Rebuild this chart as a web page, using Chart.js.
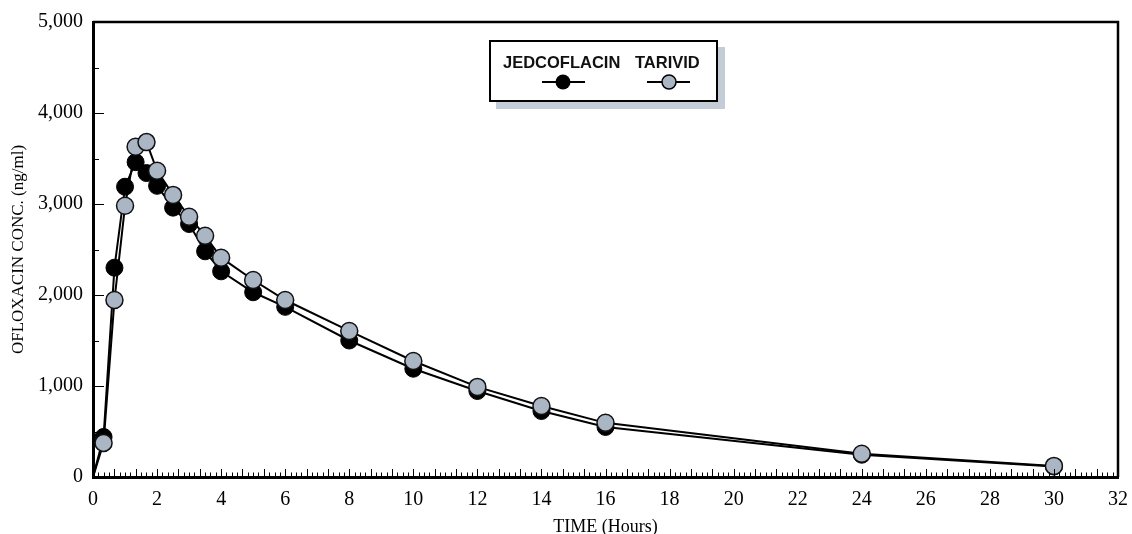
<!DOCTYPE html>
<html>
<head>
<meta charset="utf-8">
<script src="https://cdn.jsdelivr.net/npm/chart.js@4"></script>
<style>
  body { margin: 0; background: #fff; }
  #wrap { position: relative; width: 1132px; height: 534px; }
  #legendBox {
    position: absolute; left: 489px; top: 40px; width: 229px; height: 62px;
    box-sizing: border-box; border: 2px solid #000; background: #fff;
    box-shadow: 7px 7px 0 #c4ccd8;
    font-family: "Liberation Sans", Arial, sans-serif; font-weight: bold; font-size: 16.5px;
  }
  #legendBox span { position: absolute; top: 10px; line-height: 20px; color: #111; }
  #legendBox svg { position: absolute; left: 0; top: 0; }
</style>
</head>
<body>
<div id="wrap">
  <canvas id="pkChart" width="1132" height="534"></canvas>
  <div id="legendBox">
    <span style="left:12px">JEDCOFLACIN</span>
    <span style="left:144px">TARIVID</span>
    <svg width="225" height="58">
      <line x1="51" y1="40" x2="94" y2="40" stroke="#000" stroke-width="2"/>
      <circle cx="72" cy="40" r="7.5" fill="#000"/>
      <line x1="156" y1="40" x2="199" y2="40" stroke="#000" stroke-width="2"/>
      <circle cx="178" cy="40" r="7" fill="#aab6c4" stroke="#000" stroke-width="1.5"/>
    </svg>
  </div>
</div>
<script>
// time points (hours) and mean plasma levels (ng/ml)
const hours = [0, 0.33, 0.67, 1, 1.33, 1.67, 2, 2.5, 3, 3.5, 4, 5, 6, 8, 10, 12, 14, 16, 24, 30];
const jedcoflacin = [0, 440, 2300, 3190, 3460, 3340, 3200, 2960, 2780, 2480, 2260, 2030, 1870, 1500, 1190, 945, 725, 550, 245, 115];
const tarivid = [0, 375, 1945, 2980, 3630, 3680, 3365, 3100, 2860, 2650, 2410, 2165, 1945, 1605, 1275, 990, 780, 595, 255, 122];

const serif = "'Liberation Serif', 'Times New Roman', serif";

const toPoints = vals => vals.map((v, i) => ({ x: hours[i], y: v }));

// frame (top/right) and inward ticks, placed with the chart scales
const frameTicks = {
    id: 'frameTicks',
    afterDraw(chart) {
        const { ctx, chartArea: a, scales: { x, y } } = chart;
        ctx.save();
        ctx.strokeStyle = '#000';
        ctx.lineWidth = 2.5;
        ctx.beginPath();
        ctx.moveTo(a.left, a.top);
        ctx.lineTo(a.right, a.top);
        ctx.lineTo(a.right, a.bottom);
        ctx.stroke();

        ctx.lineWidth = 1;
        ctx.beginPath();
        for (let i = 1; i < 192; i++) {
            const px = Math.round(x.getPixelForValue(i / 6)) + 0.5;
            const len = i % 4 === 0 ? 7 : 3.5;
            ctx.moveTo(px, a.bottom - 1);
            ctx.lineTo(px, a.bottom - 1 - len);
        }
        for (let v = 500; v < 5000; v += 500) {
            const py = Math.round(y.getPixelForValue(v)) + 0.5;
            const len = v % 1000 === 0 ? 10 : 5;
            ctx.moveTo(a.left + 1, py);
            ctx.lineTo(a.left + 1 + len, py);
        }
        ctx.stroke();
        ctx.restore();
    }
};

const radius = ctx => ctx.dataIndex === 0 ? 0 : 8.5;

new Chart(document.getElementById('pkChart'), {
    type: 'line',
    data: {
        datasets: [
            {
                label: 'JEDCOFLACIN',
                data: toPoints(jedcoflacin),
                borderColor: '#000',
                borderWidth: 2,
                backgroundColor: '#000',
                pointBackgroundColor: '#000',
                pointBorderColor: '#000',
                pointBorderWidth: 1,
                pointRadius: radius,
                tension: 0,
                order: 2
            },
            {
                label: 'TARIVID',
                data: toPoints(tarivid),
                borderColor: '#000',
                borderWidth: 2,
                backgroundColor: '#aab6c4',
                pointBackgroundColor: '#aab6c4',
                pointBorderColor: '#111',
                pointBorderWidth: 1.5,
                pointRadius: radius,
                tension: 0,
                order: 1
            }
        ]
    },
    options: {
        responsive: false,
        animation: false,
        layout: { padding: { top: 22, right: 14, left: 0, bottom: 0 } },
        plugins: { legend: { display: false }, tooltip: { enabled: false } },
        scales: {
            x: {
                type: 'linear', min: 0, max: 32,
                ticks: { stepSize: 2, color: '#000', padding: 11, font: { family: serif, size: 20 } },
                grid: { display: true, drawOnChartArea: false, drawTicks: false },
                border: { color: '#000', width: 3 },
                title: { display: true, text: 'TIME (Hours)', color: '#000', font: { family: serif, size: 18, lineHeight: 1 }, padding: { top: 0, bottom: -2 } },
                afterFit: s => { s.height = 57; s.paddingRight = 0; }
            },
            y: {
                min: 0, max: 5000,
                ticks: { stepSize: 1000, color: '#000', padding: 10, font: { family: serif, size: 20 },
                    callback: v => v.toLocaleString('en-US') },
                grid: { display: true, drawOnChartArea: false, drawTicks: false },
                border: { color: '#000', width: 3 },
                title: { display: true, text: 'OFLOXACIN CONC. (ng/ml)', color: '#000', font: { family: serif, size: 17 }, padding: { top: 8, bottom: 0 } },
                afterFit: s => { s.width = 93; }
            }
        }
    },
    plugins: [frameTicks]
});
</script>
</body>
</html>
